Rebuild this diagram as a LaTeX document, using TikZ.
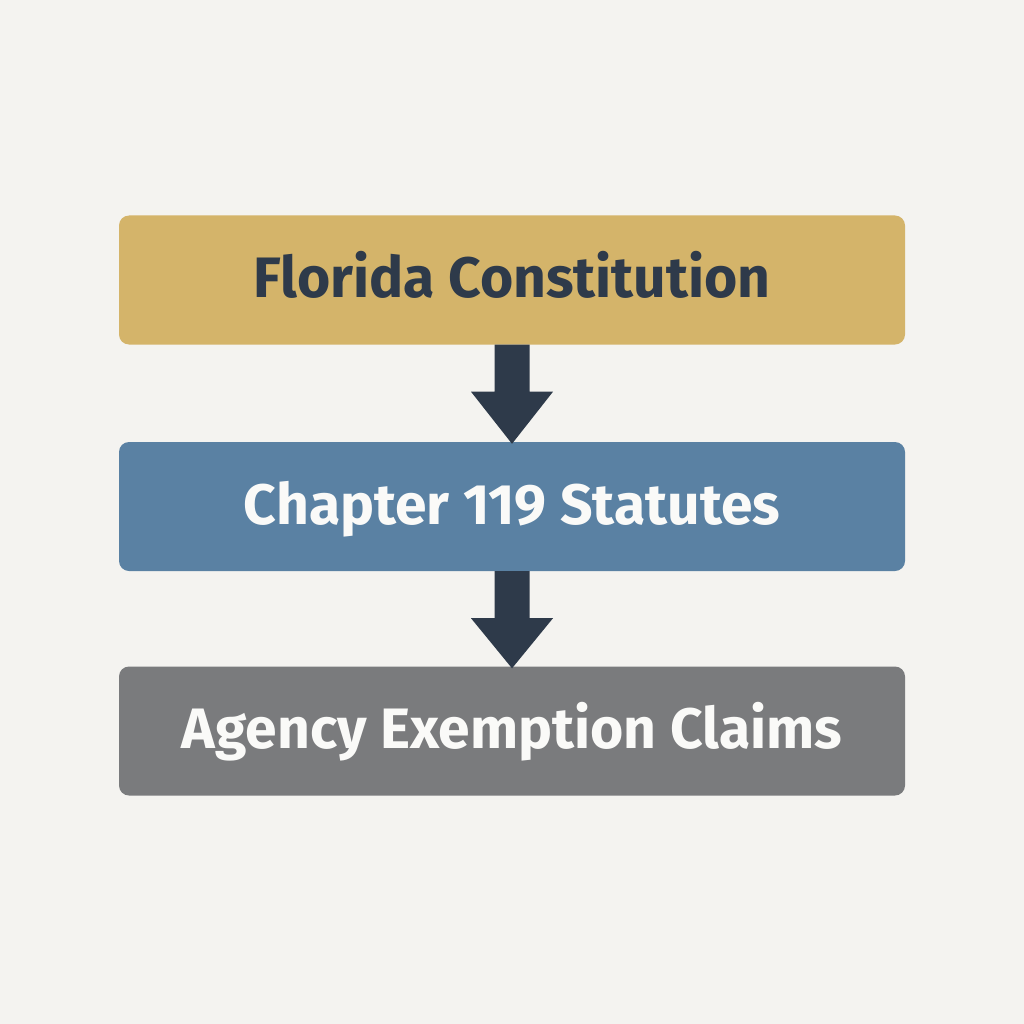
\documentclass[tikz,border=0pt]{standalone}
\usepackage{fontspec}
\setmainfont{Fira Sans}
\definecolor{bgc}{HTML}{F4F3F0}
\definecolor{goldc}{HTML}{D4B46A}
\definecolor{bluec}{HTML}{5A81A3}
\definecolor{grayc}{HTML}{7A7B7D}
\definecolor{darkc}{HTML}{2E3A4A}
\definecolor{whitec}{HTML}{FAFAF8}
\begin{document}
\begin{tikzpicture}[x=1pt,y=-1pt,
  boxstyle/.style={rounded corners=10pt, minimum width=786pt, minimum height=129pt, inner sep=0pt, text height=40pt, text depth=5pt, font=\fontsize{57}{60}\selectfont\bfseries},
  arrowstyle/.style={fill=darkc, draw=none}]
\fill[bgc] (0,0) rectangle (1024,1024);
\useasboundingbox (0,0) rectangle (1024,1024);
\node[boxstyle, fill=goldc, text=darkc] (b1) at (512,280) {Florida Constitution};
\node[boxstyle, fill=bluec, text=whitec] (b2) at (512,506.5) {Chapter 119 Statutes};
\node[boxstyle, fill=grayc, text=whitec] (b3) at (512,731) {Agency Exemption Claims};
\fill[arrowstyle] ([xshift=-17.5pt]b1.south) -- ([xshift=-17.5pt,yshift=-47pt]b1.south) -- ([xshift=-41pt,yshift=-47pt]b1.south) -- ([yshift=-2pt]b2.north) -- ([xshift=41pt,yshift=-47pt]b1.south) -- ([xshift=17.5pt,yshift=-47pt]b1.south) -- ([xshift=17.5pt]b1.south) -- cycle;
\fill[arrowstyle] ([xshift=-17.5pt]b2.south) -- ([xshift=-17.5pt,yshift=-47pt]b2.south) -- ([xshift=-41pt,yshift=-47pt]b2.south) -- ([yshift=-2pt]b3.north) -- ([xshift=41pt,yshift=-47pt]b2.south) -- ([xshift=17.5pt,yshift=-47pt]b2.south) -- ([xshift=17.5pt]b2.south) -- cycle;
\end{tikzpicture}
\end{document}
